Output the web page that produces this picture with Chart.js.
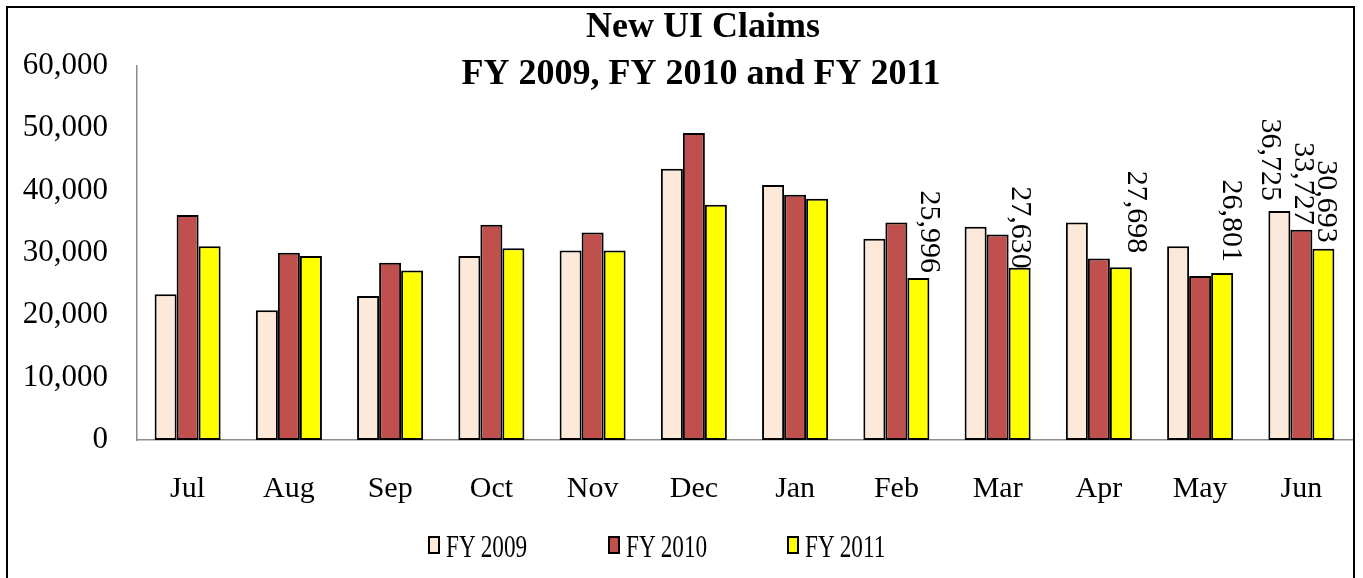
<!DOCTYPE html>
<html>
<head>
<meta charset="utf-8">
<title>New UI Claims</title>
<script src="https://cdn.jsdelivr.net/npm/chart.js@4.4.0/dist/chart.umd.min.js"></script>
<style>
  html, body { margin: 0; padding: 0; background: #fff; }
  #wrap { position: relative; width: 1363px; height: 578px; overflow: hidden; }
  #frame { position: absolute; left: 6px; top: 6px; width: 1345px; height: 620px; border: 2px solid #000; }
  #chart { position: absolute; left: 0; top: 0; }
  #legend { position: absolute; left: 428px; top: 529px; display: flex;
            font-family: "Liberation Serif", "Times New Roman", serif; font-size: 31px; line-height: 36px; }
  .item { width: 179.5px; display: flex; align-items: flex-start; }
  .swatch { width: 8px; height: 14px; border: 2px solid #000; margin-top: 7px; margin-right: 6px; }
  .txt { display: inline-block; transform: scaleX(0.75); transform-origin: left center; white-space: nowrap; }
</style>
</head>
<body>
<div id="wrap">
  <div id="frame"></div>
  <canvas id="chart" width="1363" height="578"></canvas>
  <div id="legend"></div>
</div>
<script>
// --- data ---
const months = ['Jul', 'Aug', 'Sep', 'Oct', 'Nov', 'Dec', 'Jan', 'Feb', 'Mar', 'Apr', 'May', 'Jun'];
const seriesNames = ['FY 2009', 'FY 2010', 'FY 2011'];
const fy2009 = [23400, 20800, 23100, 29500, 30400, 43500, 40900, 32300, 34200, 34900, 31100, 36725];
const fy2010 = [36100, 30050, 28450, 34550, 33300, 49250, 39350, 34900, 32950, 29100, 26300, 33727];
const fy2011 = [31100, 29500, 27200, 30750, 30400, 37750, 38700, 25996, 27630, 27698, 26801, 30693];
const yTicks = [0, 10000, 20000, 30000, 40000, 50000, 60000];
const titleLines = ['New UI Claims', 'FY 2009, FY 2010 and FY 2011'];
// which bars carry a value label: [series, month]
const labelled = [[2, 7], [2, 8], [2, 9], [2, 10], [2, 11], [0, 11], [1, 11]];

// --- styles ---
const serif = '"Liberation Serif", "Times New Roman", serif';
const colors = ['#FDE9D9', '#C0504D', '#FFFF00'];
const axisColor = '#8c8c8c';
// small nudges so the rotated labels sit like the original
const labelNudge = { '2-7': [10, 5], '2-8': [0, -1], '2-9': [15, 14], '2-10': [9, 11], '2-11': [2, 6], '0-11': [-9, 10], '1-11': [1, 5] };

const fmt = v => v.toLocaleString('en-US');

// title drawn over the plot area, like the original
const titlePlugin = {
    id: 'overTitle',
    afterDraw(chart) {
        const c = chart.ctx;
        c.save();
        c.fillStyle = '#000';
        c.font = 'bold 36px ' + serif;
        c.textAlign = 'center';
        c.textBaseline = 'alphabetic';
        c.fillText(titleLines[0], 703, 37);
        c.fillText(titleLines[1], 701, 84);
        c.restore();
    }
};

// vertical value labels above selected bars
const valueLabels = {
    id: 'valueLabels',
    afterDatasetsDraw(chart) {
        const c = chart.ctx;
        c.save();
        c.fillStyle = '#000';
        c.font = '30px ' + serif;
        c.textAlign = 'right';
        c.textBaseline = 'middle';
        labelled.forEach(([s, i]) => {
            const bar = chart.getDatasetMeta(s).data[i];
            const value = chart.data.datasets[s].data[i];
            const [dx, gap] = labelNudge[s + '-' + i] || [0, 6];
            c.save();
            c.translate(bar.x + dx, bar.y - gap);
            c.rotate(Math.PI / 2);
            c.fillText(fmt(value), 0, 0);
            c.restore();
        });
        c.restore();
    }
};

const seriesData = [fy2009, fy2010, fy2011];
const datasets = seriesNames.map((name, k) => ({
    label: name,
    data: seriesData[k],
    backgroundColor: colors[k],
    borderColor: '#000',
    borderWidth: 2,
    borderSkipped: false,
    barPercentage: 1,
    categoryPercentage: 0.652
}));

const chart = new Chart(document.getElementById('chart').getContext('2d'), {
    type: 'bar',
    data: { labels: months, datasets: datasets },
    options: {
        responsive: false,
        animation: false,
        layout: { padding: { top: 66, right: 11, bottom: 58, left: 0 } },
        plugins: {
            legend: { display: false },
            title: { display: false },
            tooltip: { enabled: false }
        },
        scales: {
            x: {
                grid: { display: false, drawTicks: false },
                border: { display: true, color: axisColor, width: 1.5 },
                ticks: { color: '#000', font: { family: serif, size: 30 }, padding: 31, maxRotation: 0, autoSkip: false },
                afterFit: s => { s.height = 80; }
            },
            y: {
                min: yTicks[0],
                max: yTicks[yTicks.length - 1],
                grid: { display: false, drawTicks: false },
                border: { display: true, color: axisColor, width: 1.5 },
                ticks: { stepSize: yTicks[1] - yTicks[0], color: '#000', font: { family: serif, size: 31 }, padding: 29, callback: v => fmt(v) },
                afterFit: s => { s.width = 137; }
            }
        }
    },
    plugins: [titlePlugin, valueLabels]
});

// --- legend built from the datasets ---
const legend = document.getElementById('legend');
chart.data.datasets.forEach(ds => {
    const item = document.createElement('div');
    item.className = 'item';
    const sw = document.createElement('span');
    sw.className = 'swatch';
    sw.style.background = ds.backgroundColor;
    const t = document.createElement('span');
    t.className = 'txt';
    t.textContent = ds.label;
    item.appendChild(sw);
    item.appendChild(t);
    legend.appendChild(item);
});
</script>
</body>
</html>
